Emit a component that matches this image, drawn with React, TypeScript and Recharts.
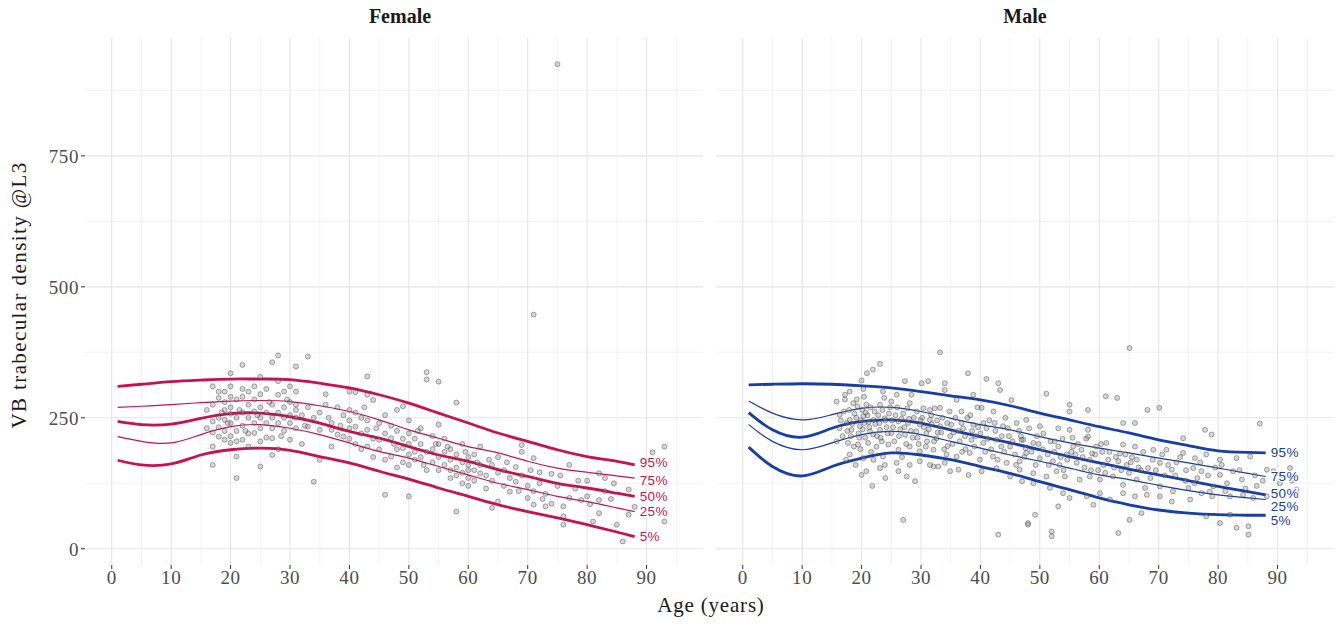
import {
  CartesianGrid,
  ComposedChart,
  Line,
  Scatter,
  XAxis,
  YAxis,
} from "recharts";

// ages at which the percentile curves were read
const curveAges = [1, 5, 10, 15, 20, 25, 30, 35, 40, 45, 50, 55, 60, 65, 70, 75, 80, 85, 88];

const femaleP95 = [310, 314, 319, 322, 324, 324, 323, 316, 307, 294, 278, 259, 240, 221, 205, 189, 176, 167, 160];
const femaleP75 = [270, 272, 275, 279, 282, 283, 281, 273, 262, 246, 227, 211, 195, 183, 167, 154, 146, 139, 135];
const femaleP50 = [243, 237, 238, 249, 258, 259, 252, 240, 224, 211, 195, 179, 167, 151, 138, 125, 116, 106, 100];
const femaleP25 = [214, 205, 202, 218, 233, 237, 230, 218, 202, 186, 173, 157, 141, 125, 113, 100, 90, 78, 71];
const femaleP05 = [169, 160, 162, 179, 189, 192, 188, 176, 164, 148, 133, 116, 100, 84, 71, 59, 46, 32, 23];

const maleP95 = [313, 314, 315, 314, 311, 307, 300, 292, 284, 273, 259, 246, 233, 221, 208, 197, 187, 184, 183];
const maleP75 = [282, 259, 246, 256, 268, 270, 262, 249, 237, 227, 214, 202, 192, 183, 173, 164, 154, 144, 138];
const maleP50 = [260, 227, 213, 230, 243, 246, 240, 227, 214, 202, 189, 176, 164, 152, 141, 130, 119, 109, 103];
const maleP25 = [237, 205, 189, 202, 218, 224, 218, 205, 192, 179, 167, 154, 141, 132, 121, 111, 103, 97, 94];
const maleP05 = [194, 157, 139, 157, 173, 183, 179, 170, 157, 144, 128, 113, 97, 84, 74, 68, 65, 64, 64];

const femalePoints: [number, number][] = [
  [16, 265], [16, 230], [17, 310], [17, 275], [17, 243], [17, 160], [17, 222], [17, 195], [18, 300], [18, 250],
  [18, 214], [18, 288], [18, 232], [19, 246], [19, 300], [19, 208], [19, 265], [19, 225], [19, 280], [20, 335],
  [20, 202], [20, 290], [20, 258], [20, 240], [20, 215], [20, 310], [20, 270], [21, 250], [21, 176], [21, 135],
  [21, 225], [21, 285], [21, 205], [22, 351], [22, 208], [22, 260], [22, 290], [22, 235], [22, 305], [23, 250],
  [23, 220], [23, 275], [23, 300], [23, 195], [24, 221], [24, 262], [24, 285], [24, 240], [24, 310], [25, 328],
  [25, 157], [25, 250], [25, 205], [25, 270], [25, 295], [25, 230], [26, 305], [26, 240], [26, 212], [26, 260],
  [27, 356], [27, 211], [27, 179], [27, 275], [27, 250], [27, 230], [28, 369], [28, 294], [28, 260], [28, 190],
  [28, 240], [28, 320], [29, 300], [29, 270], [29, 225], [29, 250], [30, 208], [30, 280], [30, 255], [30, 240],
  [30, 310], [31, 348], [31, 300], [31, 265], [31, 250], [31, 275], [31, 230], [32, 255], [32, 200], [33, 367],
  [33, 233], [33, 270], [34, 128], [34, 250], [35, 227], [35, 170], [35, 260], [36, 295], [36, 275], [37, 227],
  [37, 195], [37, 240], [38, 270], [38, 218], [39, 214], [39, 255], [40, 300], [40, 265], [40, 245], [40, 230],
  [40, 210], [41, 299], [41, 260], [41, 233], [41, 200], [42, 250], [42, 220], [42, 190], [43, 329], [43, 294],
  [43, 227], [43, 195], [43, 245], [44, 284], [44, 210], [44, 175], [45, 208], [45, 240], [45, 190], [46, 255],
  [46, 103], [46, 220], [46, 170], [47, 211], [47, 176], [47, 235], [48, 265], [48, 190], [48, 225], [48, 155],
  [49, 272], [49, 192], [49, 210], [49, 165], [50, 245], [50, 100], [50, 220], [50, 200], [50, 180], [50, 160],
  [51, 210], [51, 185], [51, 170], [52, 230], [52, 200], [52, 175], [53, 337], [53, 323], [53, 185], [53, 150],
  [54, 215], [54, 190], [54, 165], [55, 319], [55, 237], [55, 200], [55, 175], [55, 150], [56, 210], [56, 185],
  [56, 160], [57, 190], [57, 170], [57, 150], [57, 135], [58, 71], [58, 279], [58, 180], [58, 155], [58, 140],
  [59, 200], [59, 165], [59, 145], [59, 125], [60, 175], [60, 160], [60, 150], [60, 135], [60, 120], [61, 180],
  [61, 150], [61, 130], [62, 144], [62, 195], [62, 160], [63, 140], [63, 115], [64, 78], [64, 160], [64, 130],
  [65, 175], [65, 90], [65, 145], [66, 150], [66, 120], [67, 109], [67, 135], [68, 156], [68, 128], [69, 198],
  [69, 185], [69, 140], [70, 97], [70, 120], [71, 447], [71, 173], [71, 84], [71, 110], [72, 146], [72, 125],
  [73, 81], [73, 105], [74, 143], [74, 86], [75, 925], [75, 120], [76, 81], [76, 62], [76, 46], [77, 160],
  [77, 97], [78, 115], [79, 93], [80, 130], [80, 100], [81, 52], [82, 144], [82, 93], [82, 68], [83, 135],
  [83, 110], [84, 95], [85, 46], [86, 14], [87, 113], [87, 65], [88, 80], [91, 184], [93, 195], [93, 52],
  [18.5, 260], [19.5, 240], [21.5, 265], [22.5, 225], [24.5, 255], [26.5, 280], [28.5, 215], [29.5, 285], [32.5, 235], [36.5, 250],
  [38.5, 235], [42.5, 270], [44.5, 230], [47.5, 200], [51.5, 225], [52.5, 160], [54.5, 200], [56.5, 195], [59.5, 185], [61.5, 165],
  [63.5, 170], [66.5, 165], [68.5, 110], [70.5, 150], [72.5, 95], [75.5, 140], [78.5, 130], [80.5, 85], [84.5, 125], [89.5, 105],
];

const malePoints: [number, number][] = [
  [33.2, 375], [23.1, 353], [21.9, 342], [20.9, 335], [37.9, 335], [41, 324], [43, 316], [20, 321], [30.1, 316], [31.2, 320],
  [34, 316], [27.3, 320], [20.3, 305], [18, 300], [17.2, 294], [23.6, 300], [25.9, 294], [28.4, 294], [34, 303], [36, 284],
  [38.8, 294], [43.3, 303], [45.2, 284], [15.8, 281], [18.6, 278], [20.8, 275], [23.1, 275], [25, 281], [28.1, 278], [31.5, 265],
  [33.2, 269], [36.8, 262], [40.2, 269], [42.2, 262], [16.3, 256], [18, 246], [20.3, 253], [22, 246], [23.9, 249], [26.2, 243],
  [27.8, 240], [29.8, 237], [31.5, 246], [33.2, 234], [35.1, 237], [37.1, 230], [38.8, 237], [41, 230], [43.8, 234], [46.1, 240],
  [16.3, 230], [18.3, 227], [19.7, 234], [21.4, 224], [23.1, 227], [25, 221], [27.3, 218], [29.2, 224], [30.9, 221], [32.6, 211],
  [34.9, 215], [36.5, 205], [38.5, 208], [40.5, 202], [42.7, 208], [45, 195], [47.2, 208], [15.8, 205], [17.7, 202], [19.4, 199],
  [21.1, 202], [22.5, 195], [24.5, 199], [26.2, 189], [28.1, 195], [29.8, 186], [32.1, 189], [34.3, 180], [36, 176], [38.2, 183],
  [39.9, 170], [42.1, 176], [44.4, 164], [46.6, 167], [18, 180], [20.3, 173], [22, 170], [23.6, 176], [25.9, 164], [28.1, 160],
  [29.8, 167], [32.1, 157], [34, 164], [36.3, 151], [38, 141], [40.2, 148], [42.7, 154], [45, 138], [47, 129], [20, 141],
  [20.8, 148], [23.1, 154], [23.9, 160], [26.2, 148], [27.6, 138], [29, 129], [31.5, 160], [32.9, 157], [34.9, 148], [27, 55],
  [48, 49], [43, 27], [17, 262], [17.5, 240], [18.2, 215], [18.8, 258], [19.2, 285], [19.5, 220], [19.8, 190], [20.1, 265],
  [20.5, 240], [20.6, 212], [21, 255], [21.3, 232], [21.6, 185], [22.2, 262], [22.6, 215], [23, 240], [23.4, 205], [23.8, 288],
  [24.2, 232], [24.6, 258], [25.1, 245], [25.5, 205], [26, 270], [26.5, 228], [27, 258], [27.5, 200], [28, 248], [28.6, 212],
  [29.3, 262], [29.6, 200], [30.2, 250], [30.5, 232], [31, 205], [31.8, 238], [32.3, 268], [32.8, 222], [33.6, 250], [34.5, 196],
  [35.5, 222], [36.8, 240], [37.5, 190], [38.3, 255], [39.2, 215], [39.6, 232], [40.8, 185], [41.5, 245], [42.5, 225], [43.5, 195],
  [44.2, 250], [44.8, 215], [45.8, 180], [46.5, 225], [47.6, 192], [17.4, 170], [19, 160], [21.8, 120], [24, 135], [26.8, 175],
  [65.1, 383], [51.1, 296], [61.1, 291], [63, 288], [55, 275], [55, 262], [58.1, 265], [68.1, 265], [70.1, 269], [87, 239],
  [64, 240], [66, 240], [47.7, 246], [50, 234], [53.1, 230], [55, 227], [58.1, 227], [77.8, 227], [78.9, 218], [74.1, 211],
  [58.1, 214], [46.9, 208], [48.9, 202], [53.1, 195], [55.6, 195], [57, 189], [59.5, 195], [61.2, 202], [64, 199], [66, 195],
  [69.1, 189], [71.3, 189], [74.1, 183], [76.1, 173], [78, 180], [80.3, 170], [83.1, 173], [85.4, 176], [47.7, 183], [50, 173],
  [52.2, 167], [54.5, 180], [56.2, 164], [58.4, 170], [60.7, 160], [63.2, 167], [64.6, 160], [66.3, 170], [68.2, 154], [70.2, 164],
  [72.2, 151], [75.8, 154], [77.2, 148], [80.3, 141], [82.5, 148], [88.2, 151], [89.3, 148], [92.1, 154], [90.4, 125], [46.6, 151],
  [48.9, 144], [51.1, 138], [52.8, 148], [54.2, 138], [56.7, 132], [58.4, 138], [60.1, 132], [62.3, 138], [64, 122], [66.3, 132],
  [67.7, 116], [70.2, 119], [72.4, 110], [75, 116], [77.2, 106], [79.2, 119], [82, 100], [84.2, 103], [85.9, 97], [48.9, 125],
  [51.7, 116], [53.9, 106], [55, 97], [57.9, 100], [60.1, 106], [61.8, 94], [64, 106], [66, 100], [68, 103], [70.2, 100],
  [72.2, 90], [75.3, 94], [78, 62], [80.3, 49], [82, 65], [83.1, 40], [85.1, 43], [85.1, 27], [65.1, 55], [63.2, 30],
  [48, 46], [49.2, 65], [52, 33], [52, 24], [53.1, 81], [59, 84], [67.1, 68], [78.6, 109], [88.2, 100], [93.2, 113],
  [49.5, 215], [50.5, 190], [51.5, 160], [52.5, 205], [53.5, 175], [54, 150], [55.5, 212], [56, 180], [57.5, 155], [58.8, 182],
  [59.8, 150], [60.5, 185], [61.5, 170], [62.5, 155], [63.5, 182], [65, 145], [65.5, 175], [67, 150], [69, 170], [71, 140],
  [73, 165], [74.5, 130], [76.5, 135], [79.5, 155], [81.5, 125], [84, 132], [86.5, 120], [91, 140],
  [16.5, 245], [16.8, 215], [17.2, 285], [17.6, 225], [17.9, 265], [18.4, 238], [18.7, 195], [19.1, 250], [19.3, 272], [19.6, 212],
  [19.9, 245], [20.2, 228], [20.4, 290], [20.7, 260], [21.2, 242], [21.5, 270], [21.9, 218], [22.3, 238], [22.8, 255], [23.2, 212],
  [23.5, 265], [24, 245], [24.4, 220], [24.8, 270], [25.3, 232], [25.7, 255], [26.3, 215], [26.7, 248], [27.2, 232], [27.7, 268],
  [28.3, 225], [28.8, 250], [29.4, 212], [29.9, 245], [30.4, 268], [30.8, 195], [31.3, 228], [31.7, 255], [32.2, 205], [32.7, 245],
  [33.4, 222], [33.9, 190], [34.4, 240], [34.8, 262], [35.3, 200], [35.8, 250], [36.3, 225], [36.9, 185], [37.4, 215], [37.8, 250],
  [38.6, 225], [39, 195], [39.5, 270], [40, 220], [40.5, 240], [41.2, 210], [41.8, 190], [42.4, 240], [42.9, 170], [43.6, 215],
  [44, 185], [44.6, 230], [45.4, 205], [46, 160], [46.8, 215], [47.4, 175], [48.2, 230], [48.6, 185], [49.3, 160], [49.8, 200],
  [50.6, 220], [51.3, 180], [51.8, 205], [52.4, 185], [53.3, 160], [53.8, 210], [54.6, 170], [55.3, 185], [56.4, 200], [57.2, 175],
  [57.8, 210], [58.6, 150], [59.3, 180], [60.3, 200], [61, 145], [61.7, 185], [62.8, 175], [63.7, 150], [64.4, 180], [65.3, 165],
  [66.6, 155], [67.4, 185], [68.6, 135], [69.5, 150], [70.6, 180], [71.6, 160], [72.8, 140], [73.6, 175], [74.6, 150], [76, 125],
  [77, 165], [78.3, 140], [79, 100], [80.6, 160], [81.2, 110], [83.6, 150], [84.6, 115], [86.2, 140], [87.5, 130], [89.6, 110],
  [92.4, 130],
];

const femaleTable = curveAges.map((age, i) => ({
  age,
  p95: femaleP95[i],
  p75: femaleP75[i],
  p50: femaleP50[i],
  p25: femaleP25[i],
  p05: femaleP05[i],
}));

const maleTable = curveAges.map((age, i) => ({
  age,
  p95: maleP95[i],
  p75: maleP75[i],
  p50: maleP50[i],
  p25: maleP25[i],
  p05: maleP05[i],
}));

const toPoints = (pts: [number, number][]) => pts.map(([age, value]) => ({ age, value }));

const xTicks = [0, 10, 20, 30, 40, 50, 60, 70, 80, 90];
const xMinor = [5, 15, 25, 35, 45, 55, 65, 75, 85, 95];
const yTicks = [0, 250, 500, 750];
const yMinor = [125, 375, 625, 875];

// 25% first so the other labels sit on top of it, as in the original
const curves = [
  { key: "p25", label: "25%", thick: false },
  { key: "p75", label: "75%", thick: false },
  { key: "p95", label: "95%", thick: true },
  { key: "p50", label: "50%", thick: true },
  { key: "p05", label: "5%", thick: true },
];

const serif = "'Liberation Serif', 'DejaVu Serif', serif";
const tickStyle = { fill: "#4d4d4d", fontSize: 19, fontFamily: serif, letterSpacing: 0.6 };
const lastIndex = curveAges.length - 1;

const dot = (props: any) => (
  <circle
    cx={props.cx}
    cy={props.cy}
    r={2.5}
    fill="#8a8a8a"
    fillOpacity={0.35}
    stroke="#333"
    strokeOpacity={0.5}
    strokeWidth={0.8}
  />
);

function Panel({ table, points, color, showY, width, marginLeft, marginRight, labelShift }: any) {
  return (
    <ComposedChart
      width={width}
      height={625}
      data={table}
      margin={{ top: 38, right: marginRight, left: marginLeft, bottom: 0 }}
    >
      <CartesianGrid
        stroke="#f0f0f0"
        strokeWidth={0.8}
        verticalValues={xMinor}
        horizontalValues={yMinor}
      />
      <CartesianGrid
        stroke="#e6e6e6"
        strokeWidth={1.1}
        verticalValues={xTicks}
        horizontalValues={yTicks}
      />
      <XAxis
        dataKey="age"
        type="number"
        domain={[-4.5, 99.5]}
        ticks={xTicks}
        allowDataOverflow
        height={60}
        axisLine={false}
        tickLine={{ stroke: "#333" }}
        tickSize={4}
        tick={tickStyle}
      />
      <YAxis
        dataKey="value"
        type="number"
        domain={[-31, 975]}
        ticks={yTicks}
        allowDataOverflow
        hide={!showY}
        width={85}
        axisLine={false}
        tickLine={{ stroke: "#333" }}
        tickSize={4}
        tick={tickStyle}
      />
      <Scatter data={toPoints(points)} dataKey="value" shape={dot} isAnimationActive={false} />
      {curves.map((c) => (
        <Line
          key={c.key}
          dataKey={c.key}
          type="natural"
          stroke={color}
          strokeWidth={c.thick ? 2.8 : 1.2}
          dot={false}
          activeDot={false}
          isAnimationActive={false}
          label={(p: any) =>
            p.index === lastIndex ? (
              <text
                x={p.x + 5}
                y={p.y + (labelShift[c.key] || 0)}
                dy={4.5}
                fill={color}
                fontSize={13.5}
                letterSpacing={0.4}
                fontFamily="'Liberation Sans', Arial, sans-serif"
                stroke="#fff"
                strokeWidth={2.5}
                paintOrder="stroke"
              >
                {c.label}
              </text>
            ) : (
              <g />
            )
          }
        />
      ))}
    </ComposedChart>
  );
}

const titleStyle: any = {
  position: "absolute",
  fontFamily: serif,
  color: "#1a1a1a",
  whiteSpace: "nowrap",
};

export default function App() {
  return (
    <div style={{ position: "absolute", left: 0, top: 0, width: 1340, height: 625, background: "#fff" }}>
      <div style={{ position: "absolute", left: 0, top: 0 }}>
        <Panel table={femaleTable} points={femalePoints} color="#c8124f" showY width={712} marginLeft={0} marginRight={9} labelShift={{ p95: -2, p75: 2 }} />
      </div>
      <div style={{ position: "absolute", left: 712, top: 0 }}>
        <Panel table={maleTable} points={malePoints} color="#163ea6" showY={false} width={628} marginLeft={4} marginRight={6} labelShift={{ p50: -1, p25: 7, p05: 5 }} />
      </div>
      <div style={{ ...titleStyle, left: 400, top: 5, transform: "translateX(-50%)", fontWeight: "bold", fontSize: 20 }}>
        Female
      </div>
      <div style={{ ...titleStyle, left: 1025, top: 5, transform: "translateX(-50%)", fontWeight: "bold", fontSize: 20 }}>
        Male
      </div>
      <div style={{ ...titleStyle, left: 711, top: 593, transform: "translateX(-50%)", fontSize: 21, letterSpacing: 0.8 }}>
        Age (years)
      </div>
      <div style={{ ...titleStyle, left: 19, top: 295, transform: "translate(-50%, -50%) rotate(-90deg)", fontSize: 21, letterSpacing: 1.4 }}>
        VB trabecular density @L3
      </div>
    </div>
  );
}
